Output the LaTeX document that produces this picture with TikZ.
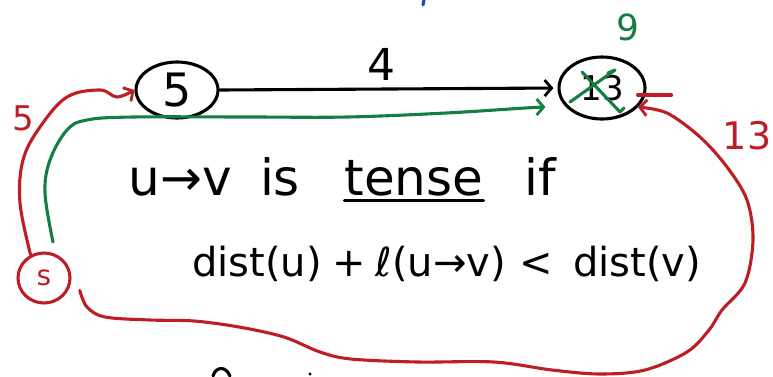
\documentclass[tikz,border=0pt]{standalone}
\usepackage{fontspec}
\setmainfont{DejaVu Sans}
\usetikzlibrary{shapes.geometric, arrows.meta, positioning, calc}
\definecolor{inkred}{RGB}{190, 30, 35}
\definecolor{inkgreen}{RGB}{20, 125, 65}
\definecolor{inkblue}{RGB}{30, 70, 200}

\begin{document}
\begin{tikzpicture}[x=1pt, y=-1pt, line cap=round, line join=round,
    pen/.style={line width=3.1pt},
    vertex/.style={draw, pen, ellipse, inner sep=0pt},
    barb/.style={-{Straight Barb[length=7pt, width=16pt, line width=2.8pt]}},
    hand/.style={font=\fontsize{#1}{#1}\selectfont, inner sep=0pt}]
    \useasboundingbox (0,0) rectangle (773,376);

    % Vertices
    \node[vertex, minimum width=82pt, minimum height=56pt, hand=46] (u) at (177,90) {5};
    \node[vertex, minimum width=86pt, minimum height=62pt, hand=34] (v) at (602,88) {13};
    \node[vertex, inkred, minimum width=52pt, minimum height=50pt, hand=28, text=inkred] (s) at (44,278) {s};

    % Edge u -> v
    \draw[pen, barb, shorten >=4pt] (u.east) -- (v.west);
    \node[hand=44] (len4) at (381,64) {4};

    % Old distance of v crossed out, new one above
    \draw[pen, inkgreen] ($(v.center)+(-32,14)$) -- ($(v.center)+(13,-18)$) -- ++(-7,3);
    \draw[pen, inkgreen] ($(v.center)+(-20,-16)$) -- ($(v.center)+(18,24)$) -- ++(4,-4);
    \node[hand=36, text=inkgreen] (newv) at (628,27) {9};

    % Paths from s
    \draw[pen, inkred, barb] plot[smooth, tension=0.6] coordinates {(s.120) (20,203) (23,160) (40,127) (67,97) (100,90) (117,97) (u.west)};
    \node[hand=34, text=inkred] (du) at (23,118) {5};
    \draw[pen, inkred, barb] plot[smooth, tension=0.55] coordinates {($(s.-20)+(10,3)$) (87,307) (105,317) (150,320) (194,321) (239,327) (284,337) (320,352) (351,359) (418,362) (494,362) (552,370) (600,374) (645,370) (687,352) (709,330) (722,310) (745,283) (753,240) (747,200) (727,167) (700,137) (667,113) (v.-28)};
    \draw[pen, inkred] ($(v.east)+(-9,7)$) -- ++(34,0);
    \node[hand=38, text=inkred] (dv) at (747,136) {13};
    \coordinate (g0) at (53,242);
    \draw[pen, inkgreen, barb] plot[smooth, tension=0.6] coordinates {(g0) (45,193) (50,160) (67,130) (87,120) (133,117) (250,117) (347,117) (446,113) (525,108) ($(v.west)+(-12,19)$)};

    % Text
    \foreach \x/\w/\n in {180/u→v/uv, 280/is/is, 414/tense/tense, 540/if/if}
        \node[hand=50, anchor=base] (\n) at (\x,195) {\w};
    \draw[pen] ($(tense.south west)+(0,5)$) -- ($(tense.south east)+(0,5)$);
    \foreach \x/\w/\n in {257/dist(u)/du2, 349/+/plus, 441/ℓ(u→v)/luv, 536/</less, 637/dist(v)/dv2}
        \node[hand=40, anchor=base] (\n) at (\x,276) {\w};

    % Cut-off strokes at the edges
    \draw[pen, inkblue] (424,0) -- (423,5);
    \draw[pen] (213,376) .. controls (216,366) and (226,366) .. (230,376);
    \fill (310,374) circle (1.6pt);
\end{tikzpicture}
\end{document}
